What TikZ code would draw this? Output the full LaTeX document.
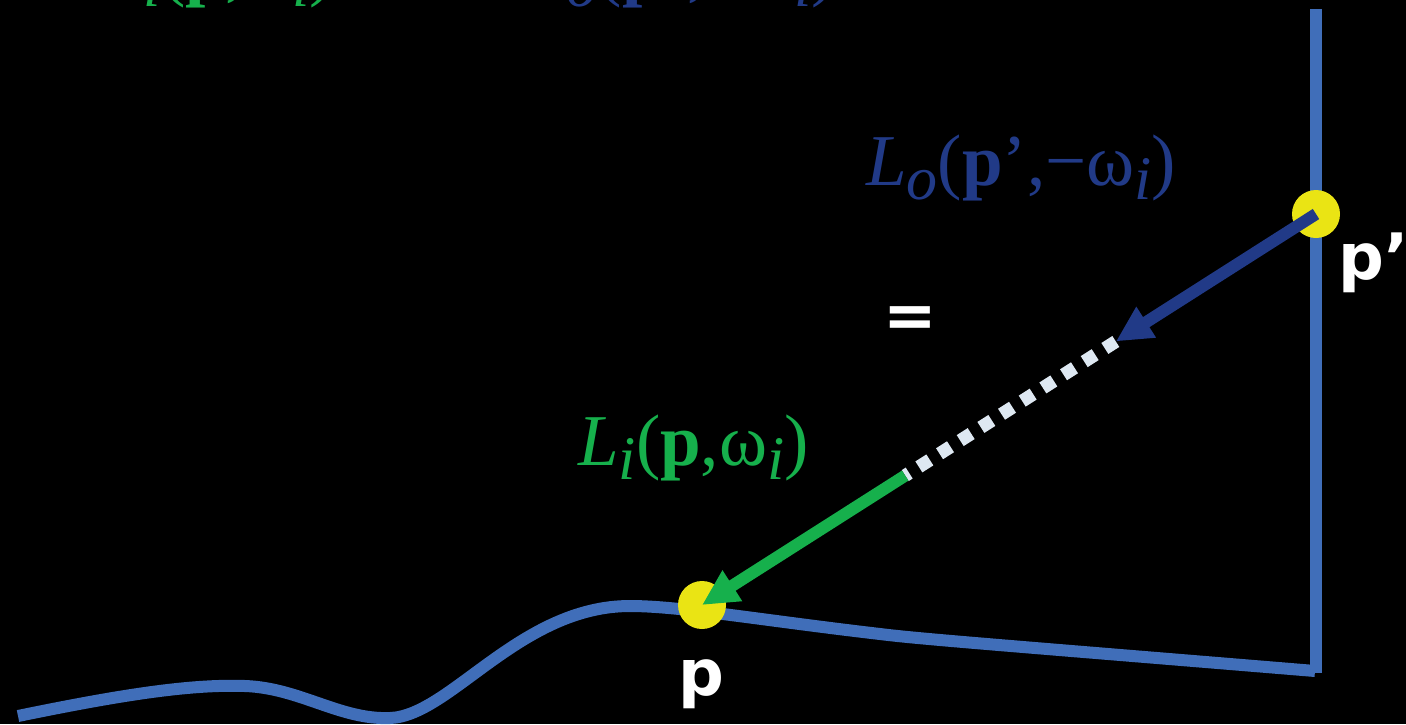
\documentclass[tikz,border=0pt]{standalone}
\usepackage{fontspec}
\setmainfont{Liberation Serif}
\newfontfamily\ptfont{DejaVu Sans}
\usepackage{tikz}
\usetikzlibrary{arrows.meta, calc}
\definecolor{surfblue}{RGB}{64,110,185}
\definecolor{rayblue}{RGB}{33,58,135}
\definecolor{raygreen}{RGB}{22,176,76}
\definecolor{hityellow}{RGB}{234,228,20}
\definecolor{freeray}{RGB}{222,232,242}
\tikzset{
    surface/.style={line width=12pt, surfblue},
    incoming/.style={-{Triangle[length=36pt,width=34pt]}, line width=12pt, raygreen},
    outgoing/.style={-{Triangle[length=36pt,width=34pt]}, line width=12pt, rayblue},
    freepath/.style={line width=13pt, freeray, dash pattern=on 13pt off 11.5pt},
    hitpt/.style={circle, fill=hityellow, minimum size=48pt, inner sep=0pt},
    ptlabel/.style={white, inner sep=0pt, font=\ptfont\bfseries\fontsize{64}{64}\selectfont},
    radlabel/.style={inner sep=0pt, anchor=base west, font=\fontsize{73}{73}\selectfont}
}
\newcommand{\sbs}[1]{\raisebox{-14pt}{\fontsize{62}{62}\selectfont\textit{#1}}}

\begin{document}
\begin{tikzpicture}[x=1pt, y=-1pt]
    \fill[black] (0,0) rectangle (1406,724);
    \useasboundingbox (0,0) rectangle (1406,724);
    \clip (0,0) rectangle (1406,724);
    % Поверхность и стена
    \draw[surface] (18,716) .. controls (120,695) and (190,684) .. (245,686)
        .. controls (300,688) and (340,720) .. (390,718)
        .. controls (450,716) and (520,606) .. (630,606)
        .. controls (680,606) and (760,620) .. (880,634)
        .. controls (920,639) and (1000,645) .. (1315,671);
    \draw[surface] (1316,673) -- (1316,9);
    \node[hitpt] (p) at (702,605) {};
    \node[hitpt] (pp) at (1316,214) {};
    % Луч от p' к p
    \coordinate (lo) at ($(pp)!0.326!(p)$);
    \coordinate (li) at ($(pp)!0.669!(p)$);
    \draw[freepath] (lo) -- (li);
    \draw[outgoing] (pp.center) -- (lo);
    \draw[incoming] (li) -- (p.center);
    \node[ptlabel, anchor=base] (plab) at (701,695) {p};
    \node[ptlabel, anchor=base west] (pplab) at (1338,279) {p’};
    \node[ptlabel] (eq) at (910,322) {=};
    \node[radlabel, raygreen] (Li) at (578,465) {\textit{L}\sbs{i}(\textbf{p},ω\sbs{i})};
    \node[radlabel, rayblue] (Lo) at (866,185) {\textit{L}\sbs{o}(\textbf{p}’,−ω\sbs{i})};
    % Формула сверху, обрезана кадром
    \node[radlabel, raygreen] (topLi) at (103,-8) {\textit{L}\sbs{i}(\textbf{p},ω\sbs{i})};
    \node[radlabel, rayblue] (topLo) at (526,-8) {\textit{L}\sbs{o}(\textbf{p}’,−ω\sbs{i})};
\end{tikzpicture}
\end{document}
